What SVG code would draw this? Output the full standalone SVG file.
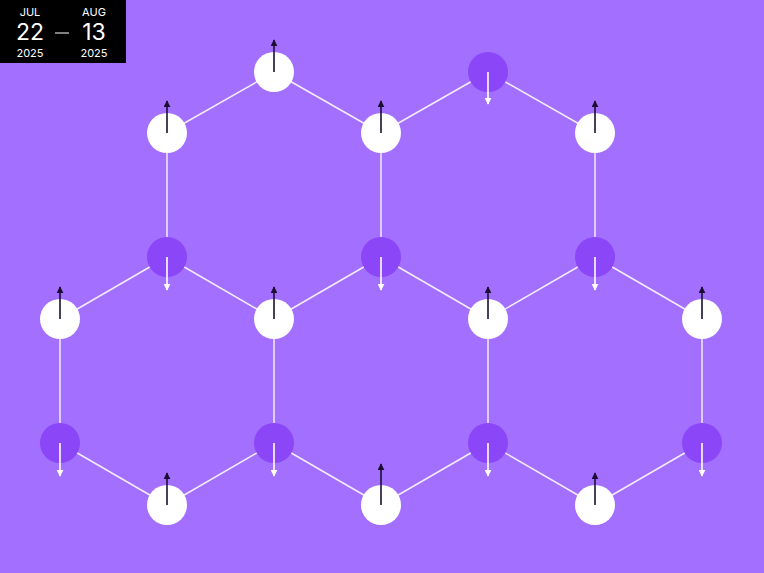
<svg xmlns="http://www.w3.org/2000/svg" width="764" height="573" viewBox="0 0 764 573">
<defs>
<style>
.edge{stroke:#f4ecff;stroke-width:1.5;fill:none}
.w{fill:#ffffff}
.p{fill:#8b46f7}
.up{stroke:#1a0f33;stroke-width:1.6;marker-end:url(#ah-dark)}
.dn{stroke:#ffffff;stroke-width:1.6;marker-end:url(#ah-light)}
.t{font-family:Inter,"Liberation Sans",sans-serif;fill:#ffffff;text-anchor:middle}
</style>
<marker id="ah-dark" viewBox="0 0 10 10" refX="9" refY="5" markerWidth="7" markerHeight="7" markerUnits="userSpaceOnUse" orient="auto">
<path d="M0,0 L10,5 L0,10 Z" fill="#1a0f33"/>
</marker>
<marker id="ah-light" viewBox="0 0 10 10" refX="9" refY="5" markerWidth="7" markerHeight="7" markerUnits="userSpaceOnUse" orient="auto">
<path d="M0,0 L10,5 L0,10 Z" fill="#ffffff"/>
</marker>
</defs>
<rect width="764" height="573" fill="#a36ffe"/>
<g id="connectors">
<line class="edge" x1="274" y1="72" x2="167" y2="133"/>
<line class="edge" x1="167" y1="133" x2="167" y2="257"/>
<line class="edge" x1="167" y1="257" x2="274" y2="319"/>
<line class="edge" x1="274" y1="319" x2="381" y2="257"/>
<line class="edge" x1="381" y1="257" x2="381" y2="133"/>
<line class="edge" x1="381" y1="133" x2="274" y2="72"/>
<line class="edge" x1="381" y1="133" x2="488" y2="72"/>
<line class="edge" x1="488" y1="72" x2="595" y2="133"/>
<line class="edge" x1="595" y1="133" x2="595" y2="257"/>
<line class="edge" x1="595" y1="257" x2="488" y2="319"/>
<line class="edge" x1="488" y1="319" x2="381" y2="257"/>
<line class="edge" x1="60" y1="319" x2="167" y2="257"/>
<line class="edge" x1="60" y1="319" x2="60" y2="443"/>
<line class="edge" x1="60" y1="443" x2="167" y2="505"/>
<line class="edge" x1="167" y1="505" x2="274" y2="443"/>
<line class="edge" x1="274" y1="443" x2="274" y2="319"/>
<line class="edge" x1="274" y1="443" x2="381" y2="505"/>
<line class="edge" x1="381" y1="505" x2="488" y2="443"/>
<line class="edge" x1="488" y1="443" x2="488" y2="319"/>
<line class="edge" x1="595" y1="257" x2="702" y2="319"/>
<line class="edge" x1="702" y1="319" x2="702" y2="443"/>
<line class="edge" x1="702" y1="443" x2="595" y2="505"/>
<line class="edge" x1="595" y1="505" x2="488" y2="443"/>
</g>
<g id="n1"><circle class="w" cx="274" cy="72" r="20"/><line class="up" x1="274" y1="72" x2="274" y2="40"/></g>
<g id="n2"><circle class="w" cx="167" cy="133" r="20"/><line class="up" x1="167" y1="133" x2="167" y2="101"/></g>
<g id="n3"><circle class="w" cx="381" cy="133" r="20"/><line class="up" x1="381" y1="133" x2="381" y2="101"/></g>
<g id="n4"><circle class="w" cx="595" cy="133" r="20"/><line class="up" x1="595" y1="133" x2="595" y2="101"/></g>
<g id="n5"><circle class="p" cx="488" cy="72" r="20"/><line class="dn" x1="488" y1="72" x2="488" y2="104"/></g>
<g id="n6"><circle class="p" cx="167" cy="257" r="20"/><line class="dn" x1="167" y1="257" x2="167" y2="290"/></g>
<g id="n7"><circle class="p" cx="381" cy="257" r="20"/><line class="dn" x1="381" y1="257" x2="381" y2="290"/></g>
<g id="n8"><circle class="p" cx="595" cy="257" r="20"/><line class="dn" x1="595" y1="257" x2="595" y2="290"/></g>
<g id="n9"><circle class="w" cx="60" cy="319" r="20"/><line class="up" x1="60" y1="319" x2="60" y2="287"/></g>
<g id="n10"><circle class="w" cx="274" cy="319" r="20"/><line class="up" x1="274" y1="319" x2="274" y2="287"/></g>
<g id="n11"><circle class="w" cx="488" cy="319" r="20"/><line class="up" x1="488" y1="319" x2="488" y2="287"/></g>
<g id="n12"><circle class="w" cx="702" cy="319" r="20"/><line class="up" x1="702" y1="319" x2="702" y2="287"/></g>
<g id="n13"><circle class="p" cx="60" cy="443" r="20"/><line class="dn" x1="60" y1="443" x2="60" y2="476"/></g>
<g id="n14"><circle class="p" cx="274" cy="443" r="20"/><line class="dn" x1="274" y1="443" x2="274" y2="476"/></g>
<g id="n15"><circle class="p" cx="488" cy="443" r="20"/><line class="dn" x1="488" y1="443" x2="488" y2="476"/></g>
<g id="n16"><circle class="p" cx="702" cy="443" r="20"/><line class="dn" x1="702" y1="443" x2="702" y2="476"/></g>
<g id="n17"><circle class="w" cx="167" cy="505" r="20"/><line class="up" x1="167" y1="505" x2="167" y2="473"/></g>
<g id="n18"><circle class="w" cx="381" cy="505" r="20"/><line class="up" x1="381" y1="505" x2="381" y2="464"/></g>
<g id="n19"><circle class="w" cx="595" cy="505" r="20"/><line class="up" x1="595" y1="505" x2="595" y2="473"/></g>
<g id="date">
<rect x="0" y="0" width="126" height="63" fill="#000000"/>
<text class="t" x="30" y="16" font-size="11">JUL</text>
<text class="t" x="30" y="40" font-size="23">22</text>
<text class="t" x="30" y="57" font-size="11">2025</text>
<line x1="55" y1="33" x2="69" y2="33" stroke="#ffffff" stroke-width="1"/>
<text class="t" x="94" y="16" font-size="11">AUG</text>
<text class="t" x="94" y="40" font-size="23">13</text>
<text class="t" x="94" y="57" font-size="11">2025</text>
</g>
</svg>
